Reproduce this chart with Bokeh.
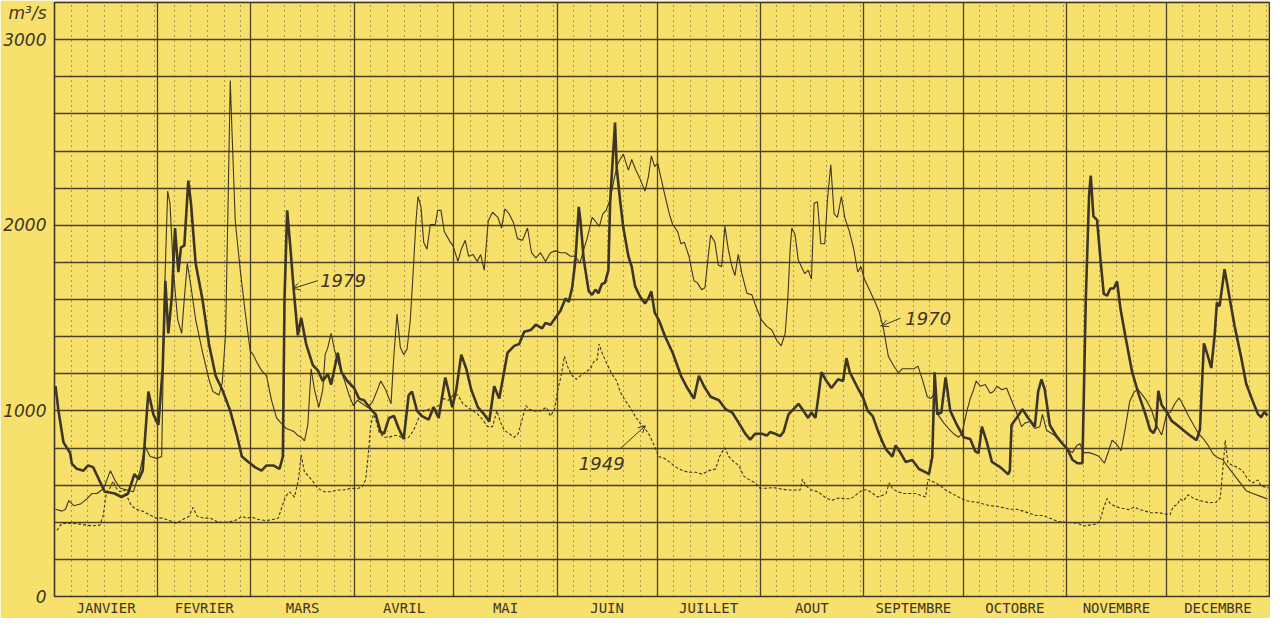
from bokeh.plotting import figure
from bokeh.models import FixedTicker, Grid, Arrow, OpenHead, Range1d
from bokeh.core.properties import value
from bokeh.embed import file_html
from bokeh.resources import INLINE

# ---------------- data ----------------
month_names = ["JANVIER", "FEVRIER", "MARS", "AVRIL", "MAI", "JUIN", "JUILLET",
               "AOUT", "SEPTEMBRE", "OCTOBRE", "NOVEMBRE", "DECEMBRE"]
month_days = [31, 28, 31, 30, 31, 30, 31, 31, 30, 31, 30, 31]
y_ticks = [0, 1000, 2000, 3000]
unit_label = "m³/s"

# 1979 (thick line): day of year, discharge m3/s
day_1979 = [0.3, 1.2, 2.7, 4.7, 5.2, 6.7, 8.7, 10.1, 11.6, 13.1, 15.1, 16.6, 18.1, 20.1, 22.1, 24.0, 25.3, 26.5, 28.2, 29.7,
            31.2, 32.5, 33.3, 34.2, 35.3, 36.2, 37.2, 38.0, 39.0, 40.2, 41.0, 42.4, 44.4, 46.4, 48.4, 50.4, 52.8, 54.8, 56.3, 57.8,
            60.2, 62.2, 63.7, 65.7, 67.6, 68.6, 69.1, 69.9, 70.9, 71.9, 73.1, 74.1, 75.6, 77.6, 79.1, 80.6, 82.1, 83.1, 85.1, 86.2,
            88.0, 90.0, 91.5, 93.0, 95.0, 96.5, 98.0, 99.0, 100.5, 102.0, 103.4, 104.9, 106.4, 107.4, 108.9, 110.4, 112.4, 113.9,
            115.4, 117.4, 119.5, 120.7, 122.2, 123.7, 125.2, 127.2, 129.1, 130.6, 132.1, 133.6, 136.1, 138.1, 139.6, 141.1, 143.1,
            144.6, 146.5, 147.5, 149.0, 150.5, 152.0, 153.5, 154.5, 155.5, 156.5, 157.5, 158.0, 159.0, 160.5, 161.5, 162.5, 163.4,
            164.4, 165.4, 166.4, 166.9, 167.6, 168.4, 168.9, 169.9, 170.9, 172.4, 173.4, 174.4, 175.9, 177.4, 178.4, 179.3, 180.3,
            181.7, 183.5, 185.7, 188.2, 190.1, 192.1, 193.6, 195.1, 197.1, 199.6, 201.6, 203.6, 205.6, 207.5, 209.0, 210.5, 212.5,
            214.0, 215.0, 216.5, 218.0, 219.0, 220.5, 222.0, 223.5, 225.0, 226.4, 227.4, 228.6, 229.4, 230.4, 231.9, 233.4, 235.4,
            236.9, 237.9, 238.9, 240.0, 241.3, 242.8, 244.3, 245.8, 247.3, 248.8, 249.8, 251.7, 252.7, 254.2, 255.7, 257.7, 259.7,
            261.2, 262.7, 263.7, 264.4, 265.2, 266.4, 267.7, 269.1, 271.1, 273.1, 275.1, 276.6, 277.6, 278.6, 280.1, 281.6, 284.1,
            286.5, 287.0, 287.5, 289.0, 290.8, 292.5, 294.5, 295.5, 296.5, 297.5, 299.0, 300.8, 302.8, 304.3, 305.8, 307.3, 308.8,
            309.8, 310.8, 311.3, 312.1, 313.2, 314.2, 315.2, 316.2, 317.2, 318.2, 319.2, 320.2, 321.7, 323.7, 325.7, 327.7, 329.1,
            330.1, 330.9, 331.6, 332.6, 334.1, 335.6, 337.6, 339.6, 341.6, 343.1, 344.1, 344.9, 345.3, 346.6, 347.5, 348.5, 349.2,
            350.0, 351.5, 353.0, 354.5, 356.5, 358.0, 360.0, 361.5, 362.5, 363.4, 364.4]
q_1979 = [1133, 1000, 830, 773, 716, 688, 678, 706, 697, 640, 564, 560, 555, 536, 555, 659, 630, 678, 1104, 981,
          924, 1227, 1701, 1417, 1625, 1985, 1748, 1881, 1890, 2240, 2118, 1795, 1606, 1360, 1189, 1114, 1000, 867, 754, 731,
          697, 678, 706, 706, 687, 754, 1606, 2080, 1871, 1644, 1407, 1502, 1360, 1246, 1218, 1161, 1199, 1142, 1313, 1208,
          1161, 1123, 1066, 1057, 1009, 981, 886, 877, 962, 972, 905, 849, 1085, 1104, 1000, 972, 953, 1019,
          962, 1180, 1020, 1114, 1303, 1227, 1114, 1019, 981, 943, 1133, 1066, 1313, 1350, 1360, 1426, 1436,
          1464, 1445, 1474, 1464, 1502, 1540, 1606, 1587, 1663, 1814, 2099, 2023, 1814, 1644, 1625, 1653, 1634,
          1682, 1691, 1758, 2118, 2326, 2553, 2307, 2136, 1985, 1833, 1777, 1672, 1616, 1578, 1606, 1644, 1530,
          1483, 1398, 1313, 1189, 1123, 1066, 1189, 1133, 1076, 1057, 1009, 991, 934, 877, 845, 877, 877,
          867, 886, 877, 864, 886, 981, 1009, 1038, 1000, 962, 991, 962, 1066, 1208, 1161, 1123, 1170,
          1161, 1284, 1208, 1170, 1123, 1076, 1000, 972, 896, 830, 792, 754, 814, 773, 725, 735, 687,
          674, 659, 754, 1208, 981, 991, 1180, 1000, 924, 858, 849, 782, 773, 915, 830, 725, 697,
          659, 678, 924, 962, 1009, 962, 915, 1104, 1170, 1114, 924, 870, 823, 794, 737, 718, 718,
          1592, 2162, 2267, 2048, 2029, 1820, 1630, 1621, 1659, 1659, 1697, 1554, 1402, 1212, 1089, 984, 899,
          880, 908, 1108, 1032, 994, 946, 918, 889, 861, 842, 899, 1212, 1364, 1288, 1231, 1402, 1583,
          1564, 1763, 1611, 1459, 1288, 1146, 1051, 984, 965, 994, 975]

# 1970 (thin line)
day_1970 = [0.3, 2.3, 3.3, 4.3, 5.8, 7.8, 9.8, 11.3, 12.8, 14.8, 16.8, 18.3, 19.8, 21.8, 23.7, 25.7, 27.2, 28.7, 30.7, 32.2,
            33.0, 34.0, 34.7, 35.7, 37.0, 38.2, 39.0, 39.9, 40.9, 42.4, 44.4, 46.4, 47.6, 49.4, 50.4, 51.4, 52.2, 52.8, 53.3, 54.3,
            55.8, 57.3, 58.8, 59.7, 60.7, 62.2, 63.7, 65.2, 66.7, 68.1, 69.6, 71.1, 72.1, 73.1, 74.1, 75.1, 76.1, 77.1, 78.1, 79.4,
            80.6, 81.3, 82.1, 83.1, 84.2, 85.5, 87.0, 88.5, 89.8, 91.0, 92.5, 94.0, 95.5, 96.8, 98.0, 99.5, 101.1, 101.9, 102.9,
            103.9, 104.9, 105.9, 106.9, 107.9, 108.6, 109.2, 110.1, 110.9, 111.9, 112.9, 114.4, 115.1, 116.1, 117.1, 118.9, 119.7,
            121.2, 122.2, 123.4, 124.4, 125.7, 127.0, 128.0, 129.1, 130.3, 131.6, 133.2, 134.3, 135.3, 136.6, 137.9, 139.1, 140.6,
            142.1, 143.3, 144.6, 146.0, 147.5, 149.0, 150.5, 152.0, 153.5, 155.0, 156.5, 157.8, 159.0, 160.0, 161.5, 162.4, 163.7,
            164.7, 165.7, 166.9, 167.9, 169.1, 169.9, 170.9, 171.7, 172.4, 173.4, 174.4, 175.9, 177.4, 178.4, 179.3, 180.3, 181.2,
            183.2, 184.7, 185.7, 187.2, 188.2, 189.2, 190.6, 192.1, 193.1, 194.4, 195.4, 196.4, 197.1, 198.4, 199.4, 200.4, 201.4,
            202.4, 203.4, 204.4, 205.4, 206.5, 208.0, 209.5, 211.0, 212.3, 214.0, 215.5, 217.0, 218.3, 219.5, 220.3, 221.0, 221.5,
            222.5, 223.4, 224.4, 225.4, 226.4, 227.4, 228.2, 229.2, 230.2, 231.4, 232.2, 233.2, 234.2, 235.2, 236.4, 237.4, 238.8,
            240.1, 241.3, 242.3, 243.3, 244.8, 246.5, 247.8, 249.1, 250.5, 252.0, 253.5, 254.7, 256.7, 258.2, 259.4, 260.7, 262.2,
            263.2, 264.0, 265.0, 265.7, 267.2, 268.6, 270.1, 271.6, 272.6, 274.1, 275.1, 276.1, 276.9, 278.1, 279.6, 281.1, 282.1,
            283.1, 284.6, 286.0, 287.5, 289.0, 290.5, 291.5, 293.0, 294.5, 296.0, 296.8, 298.0, 300.3, 302.3, 304.3, 305.8, 307.1,
            308.1, 309.1, 310.8, 312.3, 313.7, 315.4, 316.7, 317.7, 319.0, 320.4, 321.7, 323.0, 324.2, 325.4, 326.7, 328.2, 329.6,
            330.9, 332.6, 334.1, 335.3, 336.6, 337.9, 339.3, 340.6, 342.1, 343.6, 345.1, 346.6, 348.1, 349.5, 351.0, 352.0, 353.5,
            355.0, 356.5, 358.0, 359.5, 361.0, 362.5, 364.4]
q_1970 = [470, 460, 470, 517, 489, 498, 527, 555, 555, 583, 678, 621, 583, 574, 564, 678, 810, 754, 744, 754,
          1606, 2184, 2117, 1758, 1492, 1417, 1606, 1795, 1682, 1492, 1322, 1170, 1104, 1085, 1152, 1417, 2174, 2780, 2515, 2023,
          1758, 1530, 1322, 1303, 1265, 1218, 1189, 1057, 962, 934, 905, 896, 886, 867, 858, 839, 924, 1227, 1114, 1019,
          1114, 1303, 1341, 1417, 1322, 1246, 1170, 1085, 1028, 1057, 1038, 1019, 1047, 1104, 1161, 1114, 1038, 1284, 1521,
          1341, 1303, 1332, 1492, 1795, 2023, 2155, 2099, 1909, 1871, 2004, 2004, 2080, 2080, 1966, 1909, 1890,
          1805, 1871, 1919, 1833, 1843, 1805, 1843, 1758, 2023, 2070, 2042, 1985, 2089, 2061, 2013, 1928, 1919,
          1985, 1852, 1824, 1852, 1805, 1852, 1862, 1852, 1852, 1833, 1833, 1795, 1871, 1928, 2042, 2023, 1994,
          2061, 2080, 2136, 2231, 2326, 2354, 2383, 2335, 2297, 2354, 2307, 2250, 2184, 2260, 2373, 2316, 2335,
          2174, 2061, 2004, 1966, 1900, 1909, 1833, 1701, 1691, 1653, 1663, 1833, 1947, 1909, 1786, 1777, 1994,
          1871, 1786, 1729, 1843, 1739, 1634, 1625, 1549, 1492, 1455, 1436, 1379, 1350, 1417, 1606, 1871, 1985,
          1947, 1814, 1777, 1739, 1758, 1710, 2118, 2127, 1900, 1900, 2136, 2326, 2061, 2042, 2155, 2042, 1966,
          1871, 1748, 1777, 1710, 1653, 1587, 1530, 1436, 1294, 1246, 1205, 1227, 1227, 1227, 1241, 1170, 1076,
          1066, 1085, 1038, 972, 934, 905, 877, 858, 877, 1000, 1066, 1114, 1161, 1133, 1142, 1095, 1104,
          1133, 1114, 1123, 1057, 991, 915, 934, 943, 905, 915, 981, 896, 870, 832, 794, 775, 813,
          823, 775, 775, 766, 756, 718, 785, 842, 823, 785, 908, 1051, 1098, 1117, 1089, 1051, 1003,
          927, 870, 984, 994, 1041, 1070, 1022, 975, 927, 880, 851, 813, 766, 747, 737, 710, 675,
          640, 605, 570, 558, 548, 538, 525]

# 1949 (dotted line)
day_1949 = [0.7, 2.2, 3.7, 5.7, 7.7, 9.6, 11.6, 13.6, 14.6, 15.6, 16.6, 17.6, 18.6, 19.6, 21.1, 22.1, 23.1, 24.5, 26.5, 28.5,
            30.5, 32.5, 34.5, 36.5, 38.4, 40.4, 41.6, 42.9, 44.9, 46.9, 48.9, 50.9, 52.8, 54.8, 56.3, 57.8, 59.3, 60.7, 63.2, 65.2,
            67.2, 68.1, 69.3, 70.6, 72.1, 73.3, 74.1, 75.1, 76.3, 77.6, 79.1, 81.1, 83.1, 85.0, 87.0, 89.0, 91.0, 92.5, 93.5, 94.2,
            95.0, 95.8, 96.5, 97.5, 99.0, 100.5, 101.9, 103.4, 104.9, 106.4, 107.9, 109.4, 110.9, 112.4, 113.9, 115.4, 116.9, 118.3,
            119.8, 121.2, 122.7, 124.2, 125.7, 127.2, 128.6, 130.1, 131.6, 132.9, 133.9, 135.1, 136.6, 138.1, 139.3, 140.6, 141.6,
            142.6, 144.1, 146.0, 147.8, 149.0, 150.2, 151.2, 152.2, 153.2, 154.2, 155.5, 156.8, 158.0, 159.5, 161.0, 162.0, 163.0,
            163.6, 164.7, 165.9, 167.4, 168.9, 169.9, 171.4, 172.9, 174.4, 175.9, 177.4, 178.8, 180.2, 181.5, 183.2, 184.7, 186.7,
            188.7, 190.6, 192.6, 194.6, 196.6, 198.6, 199.8, 201.3, 202.6, 204.1, 205.6, 207.0, 208.5, 210.5, 212.0, 214.0, 216.0,
            218.0, 220.0, 222.0, 224.0, 224.7, 225.9, 227.4, 229.4, 231.4, 233.4, 235.4, 237.4, 239.3, 241.3, 242.8, 244.3, 245.8,
            247.3, 248.8, 249.8, 250.8, 251.7, 253.2, 255.2, 257.2, 258.7, 260.2, 261.7, 262.4, 263.7, 265.7, 267.7, 269.6, 271.6,
            273.6, 275.6, 277.1, 279.1, 281.1, 283.1, 285.0, 287.0, 289.0, 291.0, 293.0, 295.0, 297.0, 299.3, 301.3, 304.3, 307.3,
            309.3, 311.3, 313.2, 314.2, 315.2, 316.2, 317.2, 318.7, 320.7, 322.7, 324.4, 325.7, 327.7, 329.6, 331.6, 333.6, 335.1,
            336.1, 337.3, 338.1, 339.1, 340.6, 342.1, 343.6, 345.1, 347.1, 349.0, 350.2, 351.0, 351.7, 352.5, 354.0, 355.5, 357.0,
            358.5, 360.0, 361.5, 362.5, 364.0, 364.7]
q_1949 = [356, 394, 394, 394, 390, 384, 381, 384, 432, 564, 583, 621, 583, 564, 574, 527, 489, 470, 460, 441,
          422, 422, 409, 394, 413, 432, 479, 432, 422, 422, 403, 398, 403, 413, 432, 422, 428, 417, 409, 413,
          422, 470, 536, 564, 536, 631, 763, 669, 650, 621, 583, 564, 564, 574, 574, 583, 580, 593, 631, 754,
          924, 981, 953, 886, 858, 858, 867, 867, 849, 858, 896, 962, 1000, 1009, 1019, 1028, 1066, 1057,
          1085, 1085, 1038, 1019, 1000, 981, 953, 915, 915, 1000, 943, 896, 877, 858, 877, 962, 1028,
          1009, 1000, 1000, 1019, 972, 1009, 1114, 1189, 1294, 1237, 1189, 1170, 1189, 1208, 1227, 1265, 1275,
          1360, 1303, 1256, 1199, 1161, 1104, 1057, 1019, 972, 934, 905, 867, 811, 754, 744, 725, 697,
          678, 669, 669, 659, 678, 687, 754, 801, 754, 725, 706, 650, 631, 612, 583, 583, 587,
          580, 574, 574, 574, 631, 593, 574, 564, 536, 517, 530, 527, 527, 555, 574, 574, 555,
          536, 545, 555, 612, 583, 564, 555, 555, 555, 545, 536, 631, 621, 602, 574, 555, 536,
          517, 511, 508, 498, 489, 485, 479, 470, 470, 460, 447, 436, 436, 420, 405, 399, 395,
          380, 386, 391, 414, 480, 527, 500, 485, 475, 468, 482, 470, 460, 450, 452, 445, 440,
          485, 495, 525, 515, 548, 530, 520, 512, 505, 508, 530, 690, 842, 720, 705, 695, 675,
          632, 612, 628, 595, 588, 585]

# annotation texts
year_labels = ["1979", "1970", "1949"]

# ---------------- layout / style (kept apart from data) ----------------
YELLOW = "#F8E06C"
DARK = "#3d3624"
GRID = "#4a4128"

month_starts = [sum(month_days[:i]) for i in range(len(month_days) + 1)]
month_mids = [(month_starts[i] + month_starts[i + 1]) / 2 for i in range(12)]
dotted_days = [month_starts[i] + d for i in range(12) for d in range(5, 31, 5) if d < month_days[i]]

p = figure(width=1270, height=618, output_backend="svg", toolbar_location=None,
           x_range=Range1d(0, 365), y_range=Range1d(0, 3200),
           min_border_left=52, min_border_right=1, min_border_top=2, min_border_bottom=19)
p.background_fill_color = YELLOW
p.border_fill_color = YELLOW
p.outline_line_color = DARK
p.outline_line_width = 1.6

# grids
p.xgrid.ticker = FixedTicker(ticks=month_starts[1:-1])
p.xgrid.grid_line_color = GRID
p.xgrid.grid_line_width = 1.3
p.xgrid.grid_line_alpha = 1.0
p.ygrid.ticker = FixedTicker(ticks=list(range(200, 3200, 200)))
p.ygrid.grid_line_color = GRID
p.ygrid.grid_line_width = 1.5
p.ygrid.grid_line_alpha = 1.0
p.add_layout(Grid(dimension=0, ticker=FixedTicker(ticks=dotted_days), grid_line_color=GRID,
                  grid_line_width=1, grid_line_dash="1 4", grid_line_alpha=0.9))

# axes
unit_pos = 3145
p.yaxis.ticker = FixedTicker(ticks=y_ticks + [unit_pos])
p.yaxis.major_label_overrides = {unit_pos: unit_label}
p.yaxis.axis_line_color = None
p.yaxis.major_tick_line_color = None
p.yaxis.minor_tick_line_color = None
p.yaxis.major_tick_in = 0
p.yaxis.major_tick_out = 0
p.yaxis.major_label_standoff = 8
p.yaxis.major_label_text_font = "DejaVu Sans"
p.yaxis.major_label_text_font_style = "italic"
p.yaxis.major_label_text_font_size = "17px"
p.yaxis.major_label_text_color = DARK

p.xaxis.ticker = FixedTicker(ticks=month_mids)
p.xaxis.major_label_overrides = {m: n for m, n in zip(month_mids, month_names)}
p.xaxis.axis_line_color = None
p.xaxis.major_tick_line_color = None
p.xaxis.minor_tick_line_color = None
p.xaxis.major_tick_in = 0
p.xaxis.major_tick_out = 0
p.xaxis.major_label_standoff = 3
p.xaxis.major_label_text_font = "DejaVu Sans Mono"
p.xaxis.major_label_text_font_size = "14px"
p.xaxis.major_label_text_color = DARK

# series
p.line(day_1949, q_1949, line_color=DARK, line_width=1.1, line_dash="3 2")
p.line(day_1970, q_1970, line_color=DARK, line_width=1.1)
p.line(day_1979, q_1979, line_color=DARK, line_width=2.6)

# labels + arrows (annotation positions)
label_x = [79.8, 255.6, 157.5]
label_y = [1704, 1496, 718]
p.text(x=label_x, y=label_y, text=year_labels, text_font=value("DejaVu Sans"),
       text_font_style="italic", text_font_size="18px", text_color=DARK,
       text_align="left", text_baseline="middle")
arrows = [(79.0, 1701, 71.6, 1659), (254.1, 1499, 248.4, 1457), (170.0, 797, 177.5, 920)]
for xs, ys, xe, ye in arrows:
    p.add_layout(Arrow(end=OpenHead(size=7, line_color=DARK, line_width=1),
                       x_start=xs, y_start=ys, x_end=xe, y_end=ye,
                       line_color=DARK, line_width=1))

open("out.html", "w").write(file_html(p, INLINE))
